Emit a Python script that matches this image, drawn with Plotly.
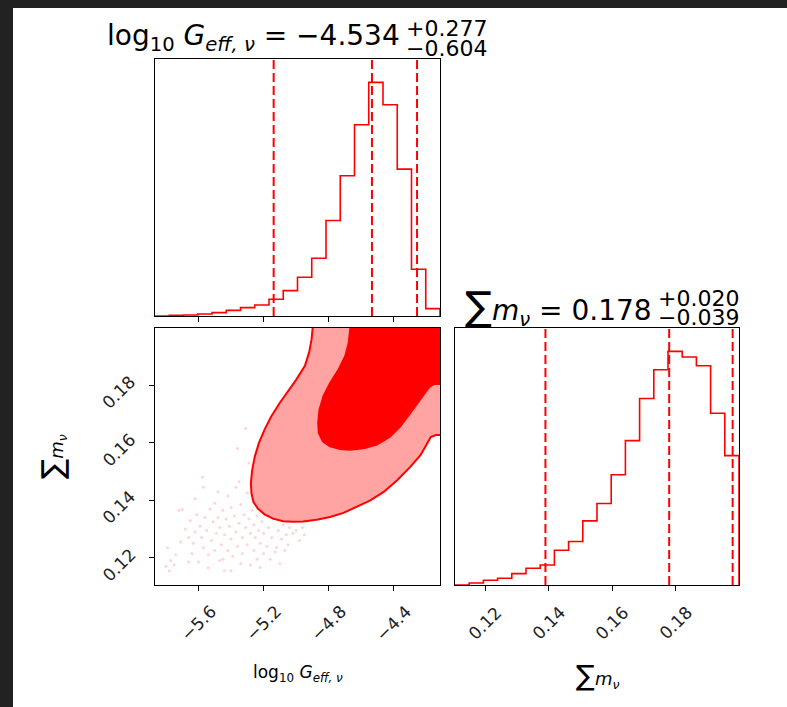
import numpy as np
import plotly.graph_objects as go

W, H = 787, 707

# Parameter ranges (shared by the histograms and the 2D panel)
g_range = [-5.867, -4.116]
m_range = [0.1105, 0.2000]

# Marginal histogram counts, 20 bins across each range
g_counts = [0, 2, 3, 6, 10, 17, 25, 33, 50, 76, 116, 173, 286, 420, 573, 700, 633, 440, 140, 22]
m_counts = [0, 6, 14, 20, 34, 50, 60, 104, 130, 192, 244, 330, 432, 558, 644, 699, 682, 656, 514, 387]

# Median and 16/84 percentile offsets
g_med, g_plus, g_minus = -4.534, 0.277, 0.604
m_med, m_plus, m_minus = 0.178, 0.020, 0.039

# Ticks
g_ticks = [-5.6, -5.2, -4.8, -4.4]
g_ticklabels = ["\u22125.6", "\u22125.2", "\u22124.8", "\u22124.4"]
m_ticks = [0.12, 0.14, 0.16, 0.18]
m_ticklabels = ["0.12", "0.14", "0.16", "0.18"]

# Outer (2-sigma) credible contour
outer_g = [-4.889, -4.905, -4.920, -4.946, -4.998, -5.049, -5.101, -5.153, -5.194, -5.229,
           -5.254, -5.270, -5.278, -5.274, -5.262, -5.235, -5.194, -5.142, -5.080, -5.019,
           -4.957, -4.874, -4.792, -4.709, -4.627, -4.544, -4.462, -4.379, -4.297, -4.235,
           -4.194, -4.173, -4.142, -4.101, -4.05, -4.05, -4.889]
outer_m = [0.2055, 0.1961, 0.1915, 0.1868, 0.1821, 0.1780, 0.1739, 0.1692, 0.1646, 0.1599,
           0.1552, 0.1505, 0.1458, 0.1423, 0.1394, 0.1371, 0.1351, 0.1336, 0.1327, 0.1325,
           0.1326, 0.1332, 0.1342, 0.1356, 0.1377, 0.1400, 0.1429, 0.1470, 0.1517, 0.1558,
           0.1599, 0.1620, 0.1627, 0.1627, 0.1627, 0.2100, 0.2100]

# Inner (1-sigma) credible contour
inner_g = [-4.664, -4.668, -4.678, -4.699, -4.740, -4.792, -4.833, -4.858, -4.866, -4.862,
           -4.837, -4.792, -4.730, -4.668, -4.586, -4.503, -4.421, -4.359, -4.297, -4.235,
           -4.184, -4.153, -4.101, -4.05, -4.05, -4.664]
inner_m = [0.2055, 0.2002, 0.1950, 0.1903, 0.1856, 0.1809, 0.1763, 0.1716, 0.1669, 0.1634,
           0.1605, 0.1587, 0.1578, 0.1575, 0.1580, 0.1593, 0.1622, 0.1657, 0.1704, 0.1751,
           0.1792, 0.1804, 0.1805, 0.1805, 0.2100, 0.2100]

# Individual samples in the low-density tail
pts_g = [-5.80, -5.78, -5.77, -5.75, -5.74, -5.79, -5.72, -5.70, -5.68, -5.66, -5.65, -5.64,
         -5.63, -5.62, -5.61, -5.60, -5.59, -5.58, -5.575, -5.57, -5.56, -5.55, -5.54, -5.53,
         -5.52, -5.51, -5.50, -5.50, -5.49, -5.48, -5.47, -5.47, -5.46, -5.45, -5.45, -5.44,
         -5.43, -5.42, -5.42, -5.41, -5.40, -5.40, -5.39, -5.38, -5.37, -5.37, -5.36, -5.36,
         -5.35, -5.35, -5.34, -5.33, -5.33, -5.32, -5.31, -5.31, -5.30, -5.30, -5.29, -5.28,
         -5.28, -5.27, -5.26, -5.26, -5.25, -5.24, -5.24, -5.23, -5.22, -5.22, -5.21, -5.20,
         -5.20, -5.19, -5.18, -5.17, -5.16, -5.15, -5.14, -5.13, -5.12, -5.11, -5.10, -5.09,
         -5.08, -5.07, -5.06, -5.05, -5.04, -5.02, -5.00, -4.98, -4.96, -4.95, -5.62, -5.66,
         -5.71, -5.54, -5.44, -5.40, -5.34, -5.48, -5.29, -5.25, -5.57]
pts_m = [0.1170, 0.1155, 0.1190, 0.1175, 0.1210, 0.1235, 0.1365, 0.1368, 0.1300, 0.1270,
         0.1330, 0.1215, 0.1250, 0.1290, 0.1350, 0.1185, 0.1310, 0.1270, 0.1480, 0.1235,
         0.1340, 0.1295, 0.1210, 0.1370, 0.1260, 0.1325, 0.1225, 0.1390, 0.1285, 0.1340,
         0.1190, 0.1305, 0.1245, 0.1365, 0.1195, 0.1280, 0.1335, 0.1415, 0.1225, 0.1310,
         0.1265, 0.1375, 0.1205, 0.1345, 0.1290, 0.1445, 0.1240, 0.1580, 0.1320, 0.1465,
         0.1385, 0.1270, 0.1215, 0.1350, 0.1650, 0.1305, 0.1425, 0.1245, 0.1335, 0.1285,
         0.1175, 0.1365, 0.1225, 0.1315, 0.1270, 0.1345, 0.1195, 0.1295, 0.1166, 0.1250,
         0.1325, 0.1215, 0.1285, 0.1355, 0.1240, 0.1305, 0.1195, 0.1270, 0.1335, 0.1220,
         0.1236, 0.1295, 0.1180, 0.1265, 0.1315, 0.1225, 0.1280, 0.1245, 0.1305, 0.1285,
         0.1295, 0.1260, 0.1305, 0.1280, 0.1405, 0.1185, 0.1255, 0.1165, 0.1155, 0.1155,
         0.1180, 0.1430, 0.1530, 0.1395, 0.1445]

RED = "#ff0000"
PINK = "#ffa3a3"
FONT = "DejaVu Sans"


def step_xy(counts, lo, hi):
    edges = np.linspace(lo, hi, len(counts) + 1)
    xs = np.concatenate([[edges[0]], edges, [edges[-1]]])
    ys = np.concatenate([[0], counts, [counts[-1], 0]])
    return xs, ys


def px_x(p):
    return p / W


def px_y(p):
    return 1 - p / H


fig = go.Figure()

# Top-left: marginal of log10 G_eff
gx, gy = step_xy(g_counts, *g_range)
fig.add_trace(go.Scatter(x=gx, y=gy, mode="lines", line=dict(color=RED, width=1.6, shape="hv"),
                         xaxis="x", yaxis="y", hoverinfo="skip"))

# Bottom-left: joint samples and contours
fig.add_trace(go.Scatter(x=pts_g, y=pts_m, mode="markers",
                         marker=dict(color="rgba(255,0,0,0.17)", size=3, line=dict(width=0)),
                         xaxis="x2", yaxis="y2", hoverinfo="skip"))
fig.add_trace(go.Scatter(x=outer_g, y=outer_m, mode="lines", fill="toself", fillcolor=PINK,
                         line=dict(color=RED, width=2), xaxis="x2", yaxis="y2", hoverinfo="skip"))
fig.add_trace(go.Scatter(x=inner_g, y=inner_m, mode="lines", fill="toself", fillcolor=RED,
                         line=dict(color=RED, width=1.5), xaxis="x2", yaxis="y2", hoverinfo="skip"))

# Bottom-right: marginal of sum m_nu
mx, my = step_xy(m_counts, *m_range)
fig.add_trace(go.Scatter(x=mx, y=my, mode="lines", line=dict(color=RED, width=1.6, shape="hv"),
                         xaxis="x3", yaxis="y3", hoverinfo="skip"))

# Quantile markers
dash = dict(color=RED, width=2, dash="9px,4px")
for v in (g_med - g_minus, g_med, g_med + g_plus):
    fig.add_shape(type="line", xref="x", yref="y domain", x0=v, x1=v, y0=0, y1=1, line=dash)
for v in (m_med - m_minus, m_med, m_med + m_plus):
    fig.add_shape(type="line", xref="x3", yref="y3 domain", x0=v, x1=v, y0=0, y1=1, line=dash)

# Dark page frame along the top and left edges
fig.add_shape(type="rect", xref="paper", yref="paper", x0=0, x1=1, y0=px_y(8), y1=1,
              fillcolor="#222222", line=dict(width=0), layer="above")
fig.add_shape(type="rect", xref="paper", yref="paper", x0=0, x1=px_x(13), y0=0, y1=1,
              fillcolor="#222222", line=dict(width=0), layer="above")

col_l = [px_x(155), px_x(440)]
col_r = [px_x(455), px_x(739)]
row_t = [px_y(316), px_y(59)]
row_b = [px_y(585), px_y(328)]

frame = dict(showline=True, linecolor="black", linewidth=1, mirror=True,
             showgrid=False, zeroline=False)
ticks = dict(ticks="outside", ticklen=5, tickcolor="black", showticklabels=False)

fig.update_layout(
    width=W, height=H,
    margin=dict(l=0, r=0, t=0, b=0),
    paper_bgcolor="white", plot_bgcolor="white",
    showlegend=False,
    xaxis=dict(domain=col_l, anchor="y", range=g_range, tickvals=g_ticks, **ticks, **frame),
    yaxis=dict(domain=row_t, anchor="x", range=[0, 1.1 * max(g_counts)], showticklabels=False,
               ticks="", **frame),
    xaxis2=dict(domain=col_l, anchor="y2", range=g_range, tickvals=g_ticks, **ticks, **frame),
    yaxis2=dict(domain=row_b, anchor="x2", range=m_range, tickvals=m_ticks, **ticks, **frame),
    xaxis3=dict(domain=col_r, anchor="y3", range=m_range, tickvals=m_ticks, **ticks, **frame),
    yaxis3=dict(domain=row_b, anchor="x3", range=[0, 1.1 * max(m_counts)], showticklabels=False,
                ticks="", **frame),
)


def note(text, x, y, size, xanchor="center", angle=0, xref="paper", yref="paper", color="black"):
    fig.add_annotation(text=text, x=x, y=y, xref=xref, yref=yref,
                       xanchor=xanchor, yanchor="middle", showarrow=False, textangle=angle,
                       font=dict(family=FONT, size=size, color=color))


# Rotated tick labels, centred under their ticks
for v, t in zip(g_ticks, g_ticklabels):
    note(t, v, px_y(623), 17, xref="x2", angle=-45, color="#222222")
for v, t in zip(m_ticks, m_ticklabels):
    note(t, v, px_y(623), 17, xref="x3", angle=-45, color="#222222")
for v, t in zip(m_ticks, m_ticklabels):
    note(t, px_x(119), v - 0.0024, 17, yref="y2", angle=-45, color="#222222")

SUM = "<span style='font-size:{}px'>\u2211</span>"

# Panel titles with asymmetric errors
note(f"log<sub>10</sub> <i>G<sub>eff, \u03bd</sub></i> = \u2212{abs(g_med):.3f}",
     px_x(402), px_y(38), 28, xanchor="right")
note(f"+{g_plus:.3f}", px_x(404), px_y(29), 22, xanchor="left")
note(f"\u2212{g_minus:.3f}", px_x(404), px_y(48), 22, xanchor="left")

note(SUM.format(40) + f"<i>m<sub>\u03bd</sub></i> = {m_med:.3f}",
     px_x(654), px_y(307), 28, xanchor="right")
note(f"+{m_plus:.3f}", px_x(656), px_y(298), 22, xanchor="left")
note(f"\u2212{m_minus:.3f}", px_x(656), px_y(317), 22, xanchor="left")

# Axis labels
note("log<sub>10</sub> <i>G<sub>eff, \u03bd</sub></i>", px_x(298), px_y(673), 17)
note(SUM.format(28) + "<i>m<sub>\u03bd</sub></i>", px_x(597), px_y(675), 18)
note(SUM.format(30) + "<i>m<sub>\u03bd</sub></i>", px_x(52), px_y(457), 18, angle=-90)

page_js = (
    "var s=document.createElement('style');"
    "s.textContent='html,body{margin:0;padding:0;overflow:hidden;background:#ffffff;}"
    "::-webkit-scrollbar{display:none;width:0;height:0;}';"
    "document.head.appendChild(s);"
)
fig.write_html("out.html", post_script=page_js)
